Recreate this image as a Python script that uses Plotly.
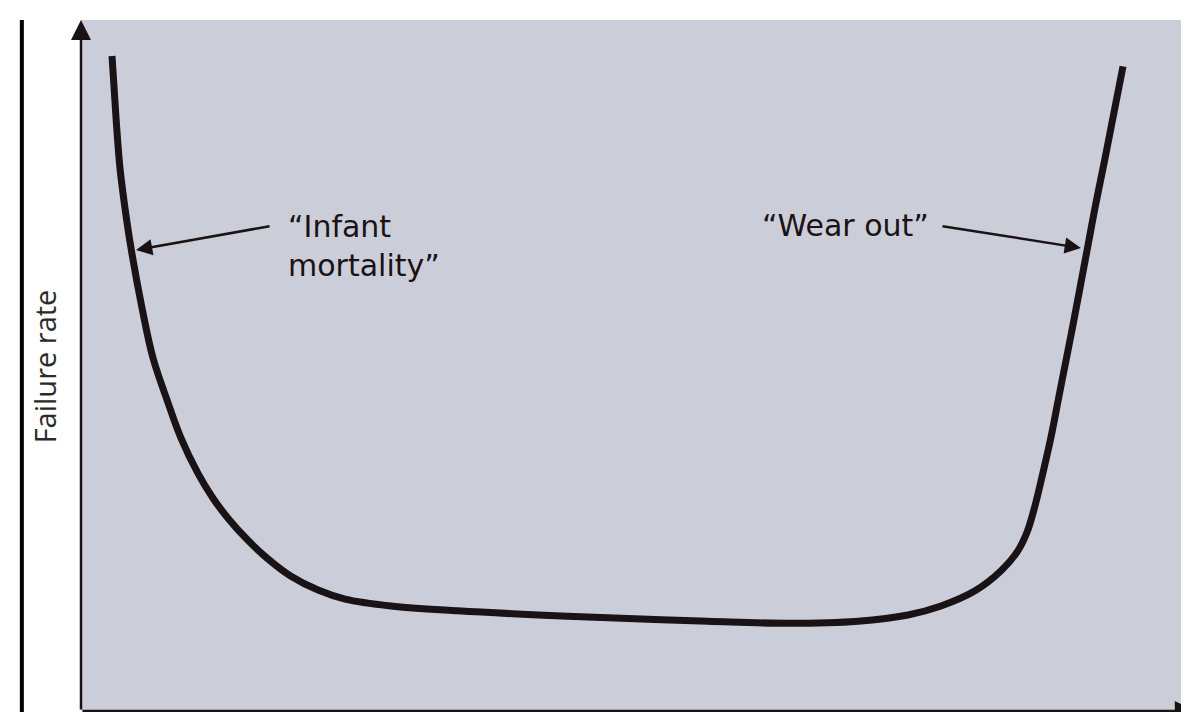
import plotly.graph_objects as go

# Bathtub curve: time (0-100) vs failure rate (0-100)
time = [2.78, 3.14, 3.49, 3.94, 4.48, 5.47, 6.45, 7.80, 8.96, 10.48, 11.83, 13.17,
        14.96, 16.76, 18.82, 21.24, 23.66, 27.78, 33.78, 40.95, 47.22, 56.18, 63.35,
        69.62, 74.10, 77.06, 80.11, 82.44, 83.96, 84.80, 85.50, 86.20, 86.90, 87.72, 88.89,
        90.14, 90.86, 91.76, 93.37]
failure_rate = [94.8, 85.8, 78.6, 72.8, 67.0, 58.3, 51.1, 44.6, 39.5, 34.4, 30.8, 27.9,
                24.7, 22.0, 19.5, 17.5, 16.2, 15.2, 14.5, 13.9, 13.5, 13.0, 12.7,
                13.0, 13.9, 15.2, 17.4, 20.3, 23.2, 26.0, 29.8, 34.5, 39.5, 46.3, 55.9,
                66.6, 72.8, 80.0, 93.3]

y_label = "Failure rate"
label_infant = "“Infant<br>mortality”"
label_wear = "“Wear out”"

ink = "#1a1214"
bg = "#cbced9"

fig = go.Figure()
fig.add_trace(go.Scatter(x=time, y=failure_rate, mode="lines",
                         line=dict(color=ink, width=7, shape="spline", smoothing=1.0),
                         hoverinfo="skip", showlegend=False))

annos = [
    # axes arrows
    dict(x=0, y=100, ax=0, ay=0, xref="x", yref="y", axref="x", ayref="y",
         text="", showarrow=True, arrowhead=2, arrowsize=1.6, arrowwidth=2.5, arrowcolor=ink),
    dict(x=99.8, y=0, ax=0, ay=0, xref="x", yref="y", axref="x", ayref="y",
         text="", showarrow=True, arrowhead=2, arrowsize=1.6, arrowwidth=2.5, arrowcolor=ink),
    # label arrows
    dict(x=4.93, y=66.7, ax=17.03, ay=70.2, xref="x", yref="y", axref="x", ayref="y",
         text="", showarrow=True, arrowhead=2, arrowsize=1.3, arrowwidth=2.5, arrowcolor=ink),
    dict(x=89.6, y=67.0, ax=77.06, ay=70.2, xref="x", yref="y", axref="x", ayref="y",
         text="", showarrow=True, arrowhead=2, arrowsize=1.3, arrowwidth=2.5, arrowcolor=ink),
    # labels
    dict(x=18.37, y=67.3, xref="x", yref="y", text=label_infant, showarrow=False,
         xanchor="left", yanchor="middle", align="left",
         font=dict(family="DejaVu Sans", size=30, color=ink)),
    dict(x=60.84, y=70.2, xref="x", yref="y", text=label_wear, showarrow=False,
         xanchor="left", yanchor="middle", align="left",
         font=dict(family="DejaVu Sans", size=30, color=ink)),
    # y-axis title
    dict(x=-0.033, y=0.499, xref="paper", yref="paper", text=y_label, showarrow=False,
         textangle=-90, xanchor="center", yanchor="middle",
         font=dict(family="Open Sans", size=29, color="#2a2a2a")),
]

fig.update_layout(
    width=1189, height=712,
    margin=dict(l=73, r=0, t=12, b=9),
    paper_bgcolor="white", plot_bgcolor=bg,
    xaxis=dict(range=[0, 100], showgrid=False, zeroline=False, showticklabels=False,
               showline=False, ticks="", fixedrange=True),
    yaxis=dict(range=[0, 100], showgrid=False, zeroline=False, showticklabels=False,
               showline=False, ticks="", fixedrange=True),
    annotations=annos,
    shapes=[dict(type="line", xref="paper", yref="paper", x0=-0.053, x1=-0.053,
                 y0=1.0, y1=-0.02, line=dict(color="black", width=4))],
)

fig.write_html("out.html")
